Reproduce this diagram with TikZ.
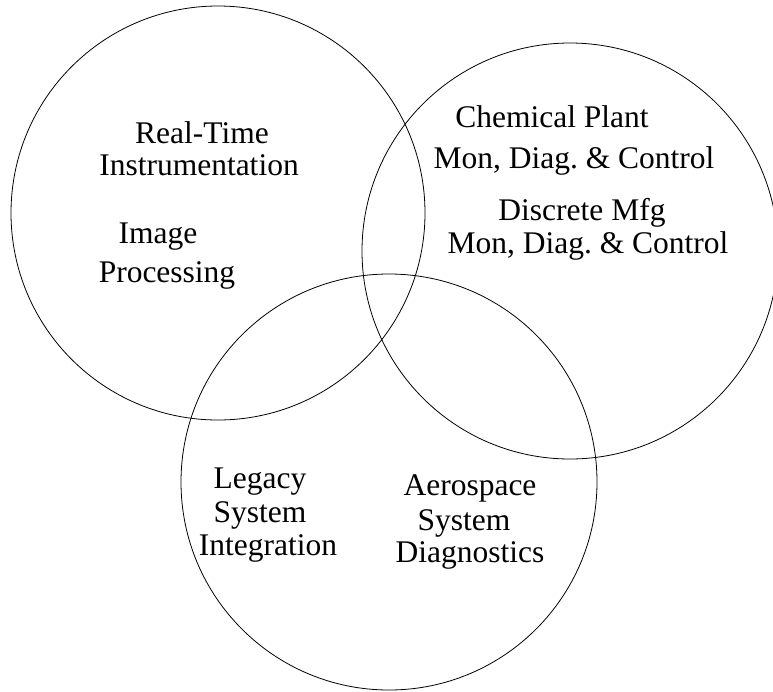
\documentclass[tikz,border=0pt]{standalone}
\usepackage{fontspec}
\setmainfont{Liberation Serif}
\frenchspacing

\begin{document}
\begin{tikzpicture}[x=1pt, y=-1pt, line width=0.8pt,
                    font=\fontsize{31.5}{32}\selectfont]
    \tikzstyle{ring} = [circle, draw=black, inner sep=0pt]
    \tikzstyle{venntext} = [anchor=base, inner sep=0pt]

    \useasboundingbox (0,0) rectangle (773,691);
    \clip (0,0) rectangle (773,691);

    % the three sets
    \node (set1) [ring, minimum size=414pt] at (218,213) {};
    \node (set2) [ring, minimum size=416pt] at (570,251) {};
    \node (set3) [ring, minimum size=416pt] at (389,482) {};

    % upper left set
    \node (rt1)  [venntext] at (202,143) {Real-Time};
    \node (rt2)  [venntext] at (199,175) {Instrumentation};
    \node (img1) [venntext] at (158,243) {Image};
    \node (img2) [venntext] at (167,282) {Processing};

    % right set
    \node (chem1) [venntext] at (552,127) {Chemical Plant};
    \node (chem2) [venntext] at (574,168) {Mon, Diag. \& Control};
    \node (mfg1)  [venntext] at (582,220) {Discrete Mfg};
    \node (mfg2)  [venntext] at (588,253) {Mon, Diag. \& Control};

    % lower set
    \node (leg1) [venntext] at (260,488) {Legacy};
    \node (leg2) [venntext] at (260,522) {System};
    \node (leg3) [venntext] at (268,555) {Integration};
    \node (aero1) [venntext] at (470,495) {Aerospace};
    \node (aero2) [venntext] at (464,530) {System};
    \node (aero3) [venntext] at (470,562) {Diagnostics};
\end{tikzpicture}
\end{document}
